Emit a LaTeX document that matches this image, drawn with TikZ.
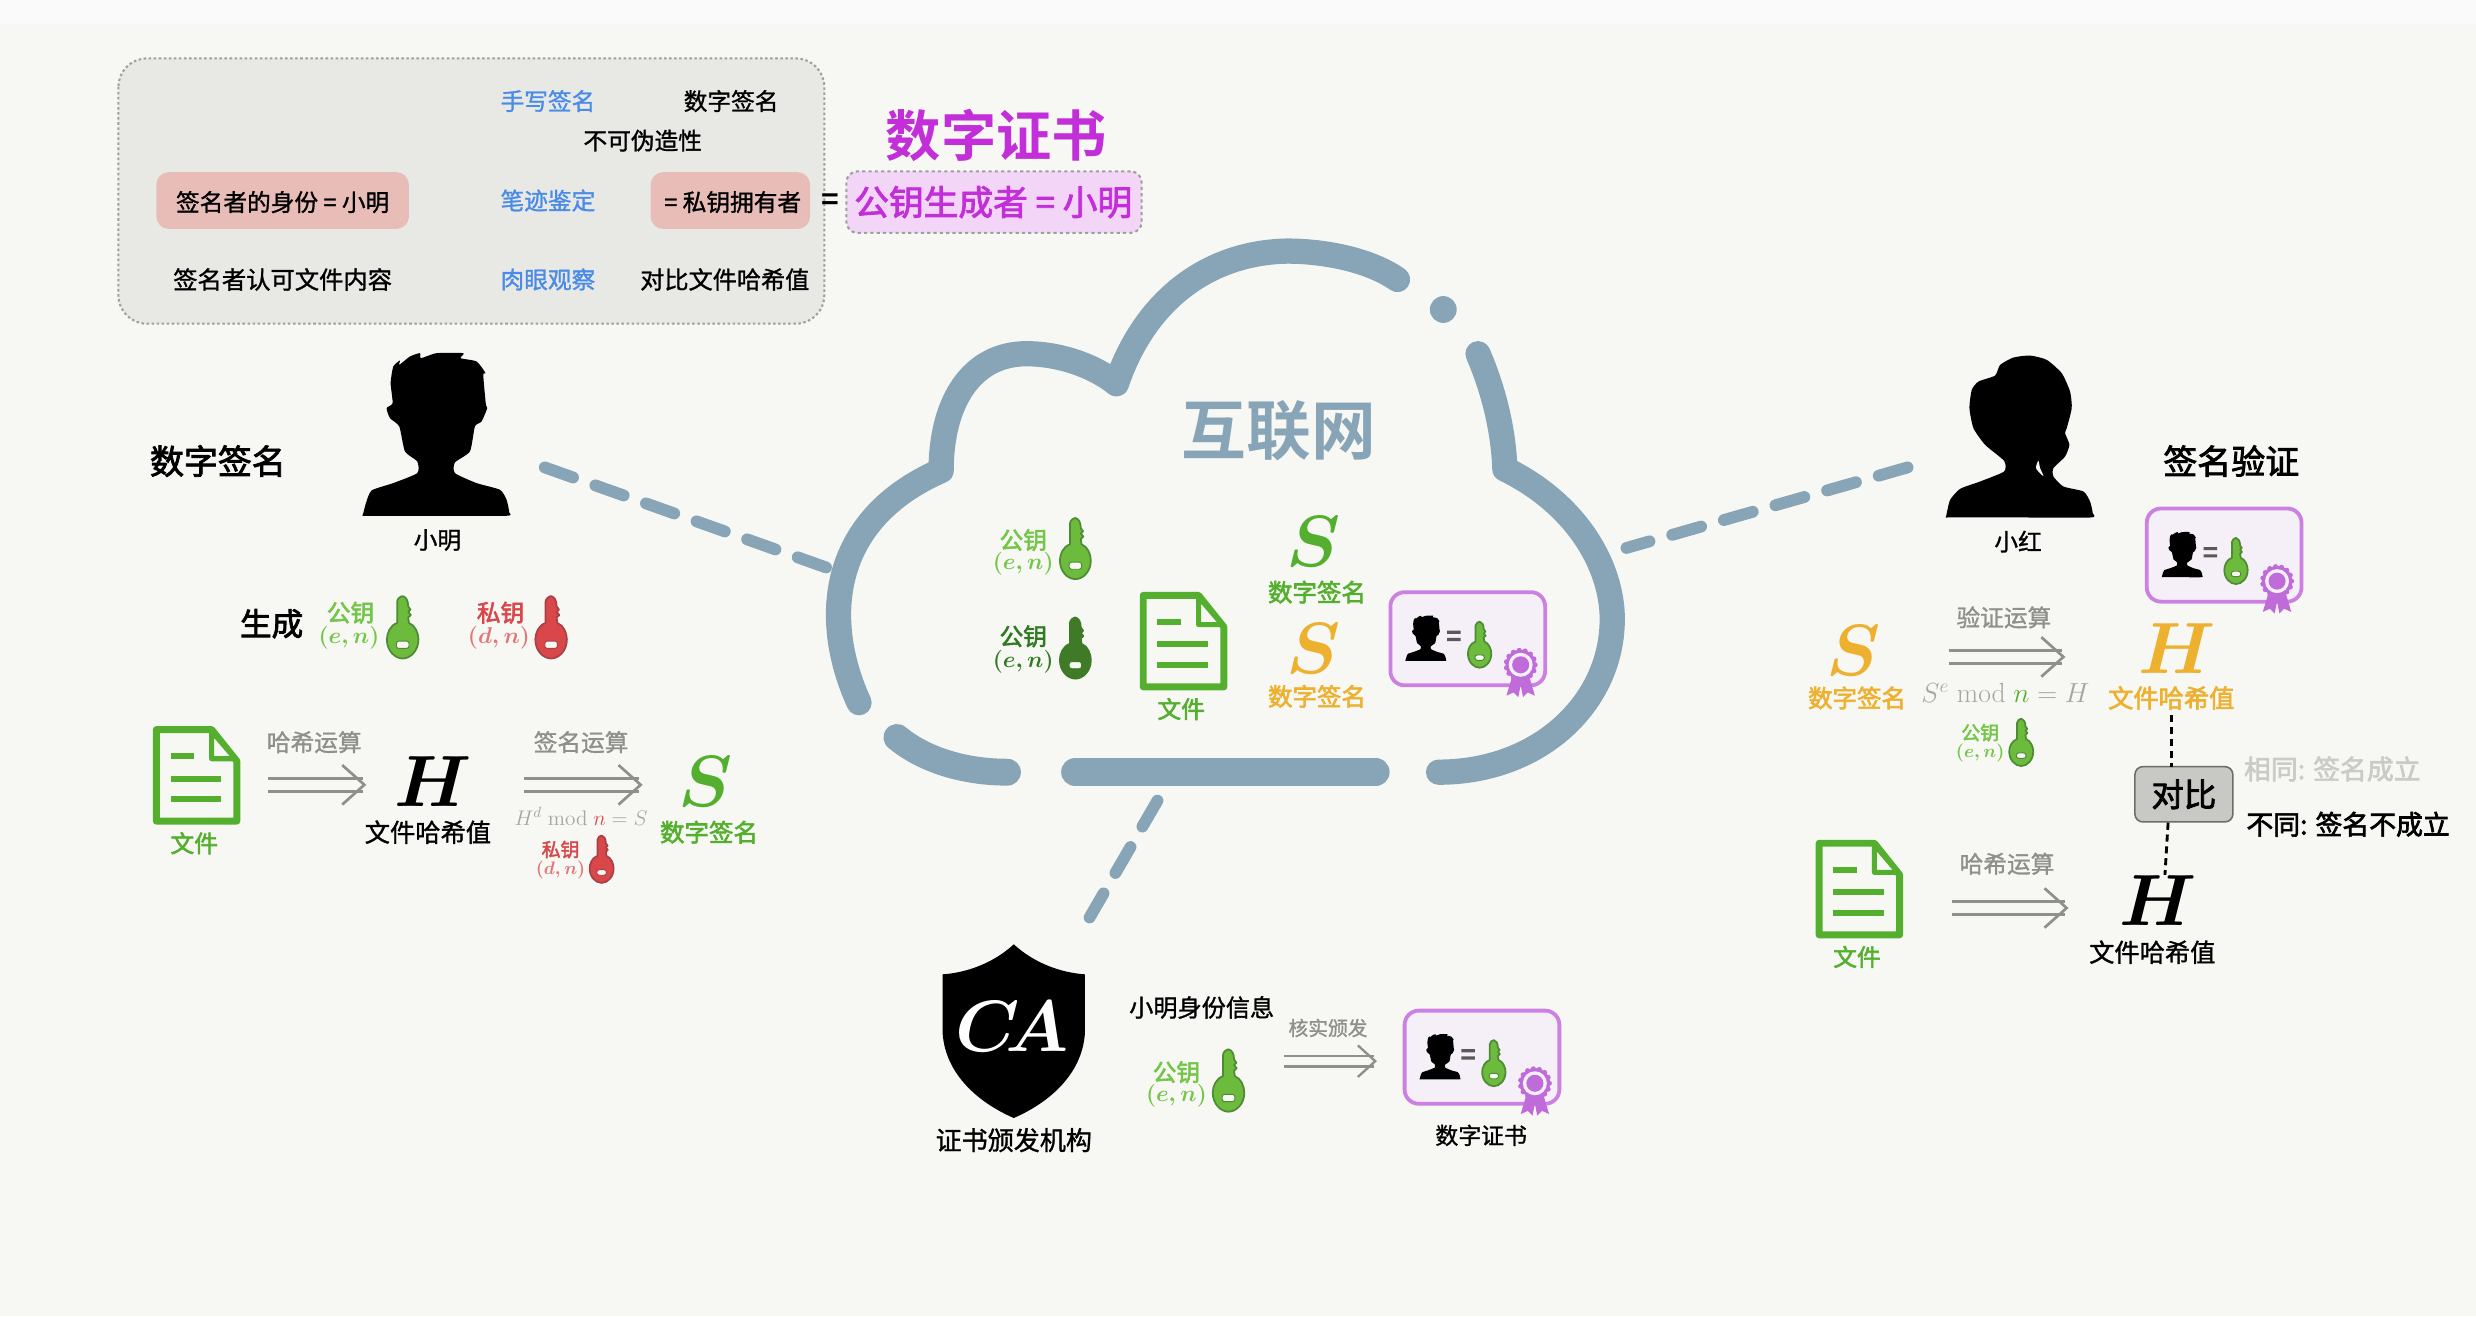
\documentclass[tikz,border=0pt]{standalone}
\usepackage{fix-cm}
\usepackage[no-math]{fontspec}
\setmainfont{Noto Sans CJK SC}[FakeBold=1.2]
\newfontfamily\medf{Noto Sans CJK SC}[FakeBold=2.4]
\newfontfamily\boldf{Noto Sans CJK SC Bold}
\usetikzlibrary{arrows.meta,calc}
\definecolor{bgc}{HTML}{F7F8F3}
\definecolor{topc}{HTML}{FAFAFA}
\definecolor{cloudc}{HTML}{88A5B8}
\definecolor{greenc}{HTML}{55AF2F}
\definecolor{lgreen}{HTML}{74C548}
\definecolor{keyg}{HTML}{6CBB3C}
\definecolor{keygs}{HTML}{4F8A35}
\definecolor{keyd}{HTML}{3F7A26}
\definecolor{dgreen}{HTML}{2F7A22}
\definecolor{redc}{HTML}{D9474A}
\definecolor{keyrs}{HTML}{A84045}
\definecolor{orangec}{HTML}{EDB02F}
\definecolor{grayt}{HTML}{8F8F8C}
\definecolor{graym}{HTML}{A5A5A2}
\definecolor{bluec}{HTML}{4A8BE8}
\definecolor{purc}{HTML}{C22FD9}
\definecolor{certc}{HTML}{CB80E2}
\definecolor{certf}{HTML}{F5EFF8}
\definecolor{sealc}{HTML}{BF6BD9}
\definecolor{redb}{HTML}{E8BDB8}
\newcommand\fs[1]{\fontsize{#1}{#1}\selectfont}
\tikzset{
  lbl/.style={inner sep=0pt,outer sep=0pt,anchor=center},
  cloudline/.style={draw=cloudc,line width=16pt,line cap=round,line join=round},
  dashcon/.style={draw=cloudc,line width=7.5pt,line cap=round,dash pattern=on 19pt off 15pt},
  dblarrow/.style={draw=grayt,double=bgc,line width=2pt,double distance=6pt,-{Straight Barb[length=14pt,width=25pt,line width=1.7pt,color=grayt]}},
  dblsmall/.style={draw=grayt,double=bgc,line width=1.7pt,double distance=5pt,-{Straight Barb[length=11pt,width=20pt,line width=1.5pt,color=grayt]}},
  cmpcon/.style={draw=black,line width=1.8pt,dash pattern=on 4.5pt off 3pt},
}
\newcommand\lab[5]{\node[lbl,text=#4] (#1) at (#2) {\fs{#3}#5};}
\newcommand\blab[5]{\node[lbl,text=#4] (#1) at (#2) {\medf\fs{#3}#5};}
\newcommand\xlab[5]{\node[lbl,text=#4] (#1) at (#2) {\boldf\fs{#3}#5};}
\newcommand\mlab[5]{\node[lbl,text=#4] (#1) at (#2) {\fs{#3}{\boldmath$#5$}};}
\newcommand\manicon[3]{\fill[black,shift={(#1,#2)},scale=#3] plot[smooth cycle,tension=.35] coordinates {(68,528)(70,520)(78,490)(95,452)(160,430)(232,400)(232,365)(195,335)(178,260)(150,235)(140,205)(158,190)(152,130)(160,80)(180,62)(178,75)(210,50)(240,40)(243,55)(290,40)(370,40)(362,55)(410,65)(437,100)(430,105)(438,195)(442,205)(425,245)(405,260)(390,335)(345,368)(345,400)(410,430)(480,450)(500,480)(508,518)(500,528)(290,528)(80,528)};}
\newcommand\keyicon[5]{\begin{scope}[shift={(#1,#2)},scale=#3]
\draw[draw=#5,fill=#4,line width=1.1pt,line join=round] (-3.5,-10.5) -- (-3.5,-24) .. controls (-3.5,-26) and (-1,-27.5) .. (0,-27.5) .. controls (2,-27) and (3.5,-25) .. (3.5,-21) -- (5,-19) -- (3.5,-17.5) -- (5.2,-15.5) -- (3.5,-14) -- (4,-10.5) .. controls (8,-9) and (10,-4) .. (10,0) .. controls (10,7) and (5,12) .. (0,12) .. controls (-5,12) and (-10,7) .. (-10,0) .. controls (-10,-4) and (-8,-9) .. (-3.5,-10.5) -- cycle;
\fill[bgc,draw=#5,line width=.6pt,rounded corners=1.5pt] (-4,1) rectangle (4,5.6);
\end{scope}}
\newcommand\docicon[2]{\begin{scope}[shift={(#1,#2)}]
\draw[greenc,line width=4.4pt,line join=round,fill=bgc] (2,2) -- (37,2) -- (53,22) -- (53,60) -- (2,60) -- cycle;
\draw[greenc,line width=3.2pt,line join=round,fill=bgc] (37,3) -- (37,20.5) -- (52,20.5) -- cycle;
\draw[greenc,line width=3.8pt] (11,19) -- (26,19) (11,33) -- (43,33) (11,46) -- (43,46);
\end{scope}}
\newcommand\certicon[3]{\begin{scope}[shift={(#2,#3)}]
\node[lbl,draw=certc,fill=certf,line width=2.4pt,rounded corners=9pt,minimum width=98pt,minimum height=59pt] (#1) at (49.5,29.5) {};
\manicon{6}{12.6}{.0586}
\fill[black!65] (36.5,24.4) rectangle (45,26.4) (36.5,29) rectangle (45,31);
\keyicon{57}{39}{.74}{keyg}{keygs}
\begin{scope}[shift={(83,46)}]
\fill[certf] (0,0) circle (11.5);
\fill[sealc] (-5,6) -- (-9,19.5) -- (-4.5,17.5) -- (-1.5,20.5) -- (0,13) -- (1.5,20.5) -- (4.5,17.5) -- (9,19.5) -- (5,6) -- cycle;
\foreach \a in {0,24,...,336} {\fill[sealc] (\a:9.2) circle (1.6);}
\fill[sealc] (0,0) circle (9.6);
\fill[certf] (0,0) circle (7.6);
\fill[sealc] (0,0) circle (5.4);
\end{scope}
\end{scope}}
\begin{document}
\begin{tikzpicture}[x=1pt,y=-1pt]
\useasboundingbox (0,0) rectangle (1568,833.4);
\fill[bgc] (0,0) rectangle (1568,833.4);
\fill[topc] (0,0) rectangle (1568,15);
% table box
\draw[draw=gray!75,fill=black!6!bgc,line width=1.3pt,dash pattern=on 1.6pt off 1.6pt,rounded corners=18pt] (75,37) rectangle (522,205);
\fill[redb,rounded corners=8pt] (99,109) rectangle (259,145);
\fill[redb,rounded corners=8pt] (412,109) rectangle (513,145);
\lab{t1}{347,64}{15}{bluec}{手写签名}
\lab{t2}{463,64}{15}{black}{数字签名}
\lab{t3}{407,89}{15}{black}{不可伪造性}
\lab{t4}{179,128}{15}{black}{签名者的身份 = 小明}
\lab{t5}{347,127}{15}{bluec}{笔迹鉴定}
\lab{t6}{464,128}{15}{black}{= 私钥拥有者}
\lab{t7}{179,177}{15.4}{black}{签名者认可文件内容}
\lab{t8}{347,177}{15}{bluec}{肉眼观察}
\lab{t9}{459,177}{15.3}{black}{对比文件哈希值}
\xlab{eq}{526,128}{19}{black}{=}
\node[lbl,draw=gray!75,fill=purc!20!white,line width=1.3pt,dash pattern=on 2pt off 2pt,rounded corners=7pt,minimum width=187pt,minimum height=39pt] (pk) at (629.5,128) {};
\blab{pkt}{629,128}{22}{purc}{公钥生成者 = 小明}
\xlab{cert}{631,86}{35}{purc}{数字证书}
% cloud
\draw[cloudline] (544,445) .. controls (521,395) and (523,330) .. (596,298) .. controls (596,255) and (615,224) .. (650,224) .. controls (670,224) and (692,231) .. (707,243) .. controls (725,190) and (765,160) .. (815,159) .. controls (840,159) and (868,165) .. (885,177);
\fill[cloudc] (914,196) circle (8.5);
\draw[cloudline] (936,224) .. controls (945,245) and (952,270) .. (953,297) .. controls (1000,320) and (1021,360) .. (1021,392) .. controls (1021,445) and (975,489) .. (911,489);
\draw[cloudline,line width=18pt] (681,489) -- (871,489);
\draw[cloudline,line width=17pt] (568,467) .. controls (585,481) and (610,489) .. (638,489);
\xlab{inet}{810,273}{41}{cloudc}{互联网}
% connectors
\coordinate (manc) at (345,296); \coordinate (cl) at (525,360);
\coordinate (womc) at (1208,296); \coordinate (cr) at (1030,347);
\coordinate (cb) at (733,507); \coordinate (cac) at (690,581);
\draw[dashcon] (manc) -- (cl);
\draw[dashcon] (womc) -- (cr);
\draw[dashcon] (cb) -- (cac);
% people
\manicon{215.3}{215.2}{.211}
\fill[black,shift={(1222.3,218.4)},scale=.211] plot[smooth cycle,tension=.35] coordinates {(48,518)(50,505)(60,465)(90,432)(150,410)(222,380)(222,348)(165,300)(130,250)(118,190)(125,135)(145,110)(195,92)(210,60)(250,38)(300,32)(350,45)(395,85)(420,140)(425,190)(410,250)(405,265)(418,300)(405,335)(370,370)(370,395)(400,425)(460,440)(480,470)(488,505)(482,518)(270,518)(58,518)};
\fill[bgc,shift={(1222.3,218.4)},scale=.211] plot[smooth cycle,tension=.5] coordinates {(325,348)(318,370)(335,390)(340,392)(330,370)};
\lab{xm}{277,342}{15}{black}{小明}
\lab{xh}{1278,343}{15}{black}{小红}
\blab{ds}{138,292}{21.5}{black}{数字签名}
\blab{sv}{1413,292}{21.5}{black}{签名验证}
% generate keys
\blab{gen}{172,395}{20}{black}{生成}
\blab{k1}{222,388}{15}{lgreen}{公钥}
\mlab{k1b}{221,404}{14.5}{lgreen}{(e,n)}
\keyicon{255}{405}{1}{keyg}{keygs}
\blab{k2}{317,388}{15}{redc}{私钥}
\mlab{k2b}{316,404}{14.5}{redc!75}{(d,n)}
\keyicon{349}{405}{1}{redc}{keyrs}
% signing row
\docicon{97}{460}
\blab{f1}{123,534}{15}{greenc}{文件}
\lab{h1}{199,470}{15}{grayt}{哈希运算}
\coordinate (a1s) at (170,497); \coordinate (a1e) at (232,497);
\draw[dblarrow] (a1s) -- (a1e);
\mlab{H1}{274,495}{46}{black}{H}
\lab{H1t}{271,527}{16}{black}{文件哈希值}
\lab{h2}{368,470}{15}{grayt}{签名运算}
\coordinate (a2s) at (332,497); \coordinate (a2e) at (407,497);
\draw[dblarrow] (a2s) -- (a2e);
\node[lbl,text=graym] (m1) at (368,517) {\fs{13.4}$H^d\bmod \textcolor{redc}{n}=S$};
\blab{k3}{355,538}{12}{redc}{私钥}
\mlab{k3b}{355,551}{11.5}{redc!75}{(d,n)}
\keyicon{381}{550}{.76}{redc}{keyrs}
\mlab{S1}{447,495}{46}{greenc}{S}
\blab{S1t}{449,527}{15.5}{greenc}{数字签名}
% cloud contents
\blab{k4}{648,342}{15}{lgreen}{公钥}
\mlab{k4b}{648,357}{14.5}{lgreen}{(e,n)}
\keyicon{681}{355}{.98}{keyg}{keygs}
\blab{k5}{648,403}{15}{dgreen}{公钥}
\mlab{k5b}{648,419}{14.5}{dgreen}{(e,n)}
\keyicon{681}{418}{.98}{keyd}{keyd}
\docicon{722}{375}
\blab{f2}{748,449}{15}{greenc}{文件}
\mlab{S2}{832,343}{46}{greenc}{S}
\blab{S2t}{834,375}{15.5}{greenc}{数字签名}
\mlab{S3}{832,411}{46}{orangec}{S}
\blab{S3t}{834,441}{15.5}{orangec}{数字签名}
\certicon{c1}{880}{375}
% CA
\fill[black] (642,598) .. controls (655,610) and (672,616) .. (687,617) -- (687,655) .. controls (685,680) and (665,698) .. (642,708) .. controls (619,698) and (599,680) .. (597,655) -- (597,617) .. controls (612,616) and (629,610) .. (642,598) -- cycle;
\node[lbl,text=white] (ca) at (641,650) {\fs{46}{\boldmath$C\!A$}};
\lab{cat}{642,722}{16.5}{black}{证书颁发机构}
\lab{xmid}{761,638}{15.3}{black}{小明身份信息}
\blab{k6}{745,679}{15}{lgreen}{公钥}
\mlab{k6b}{745,694}{14.5}{lgreen}{(e,n)}
\keyicon{778}{692}{1}{keyg}{keygs}
\lab{iss}{841,651}{12.5}{grayt}{核实颁发}
\coordinate (a3s) at (813,672); \coordinate (a3e) at (872,672);
\draw[dblsmall] (a3s) -- (a3e);
\certicon{c2}{889}{640}
\lab{c2t}{938,719}{14.5}{black}{数字证书}
% verifying
\certicon{c3}{1359}{322}
\mlab{S4}{1174,412}{46}{orangec}{S}
\blab{S4t}{1176,442}{15.5}{orangec}{数字签名}
\lab{h3}{1269,391}{15}{grayt}{验证运算}
\coordinate (a4s) at (1234,416); \coordinate (a4e) at (1308,416);
\draw[dblarrow] (a4s) -- (a4e);
\node[lbl,text=graym] (m2) at (1270,439) {\fs{17.5}$S^e\bmod \textcolor{greenc}{n}=H$};
\blab{k7}{1254,464}{12}{lgreen}{公钥}
\mlab{k7b}{1254,477}{11.5}{lgreen}{(e,n)}
\keyicon{1280}{476}{.76}{keyg}{keygs}
\mlab{H2}{1379,411}{46}{orangec}{H}
\blab{H2t}{1375,442}{16}{orangec}{文件哈希值}
\node[lbl,draw=gray!85!black,fill=black!19!bgc,line width=1pt,rounded corners=5pt,minimum width=62pt,minimum height=35pt] (cmp) at (1383,503) {\medf\fs{20.5}对比};
\docicon{1150}{532}
\blab{f3}{1176,606}{15}{greenc}{文件}
\lab{h4}{1271,547}{15}{grayt}{哈希运算}
\coordinate (a5s) at (1236,575); \coordinate (a5e) at (1310,575);
\draw[dblarrow] (a5s) -- (a5e);
\mlab{H3}{1367,570}{46}{black}{H}
\lab{H3t}{1363,603}{16}{black}{文件哈希值}
\coordinate (cu) at (1375,453); \coordinate (cd) at (1371,554); \coordinate (cm) at (1373,521);
\draw[cmpcon] (cu) -- (cu |- cmp.north);
\draw[cmpcon] (cm) -- (cd);
\blab{ok}{1477,487}{17}{black!18!bgc}{相同: 签名成立}
\blab{no}{1487,522}{17}{black}{不同: 签名不成立}
\end{tikzpicture}
\end{document}
